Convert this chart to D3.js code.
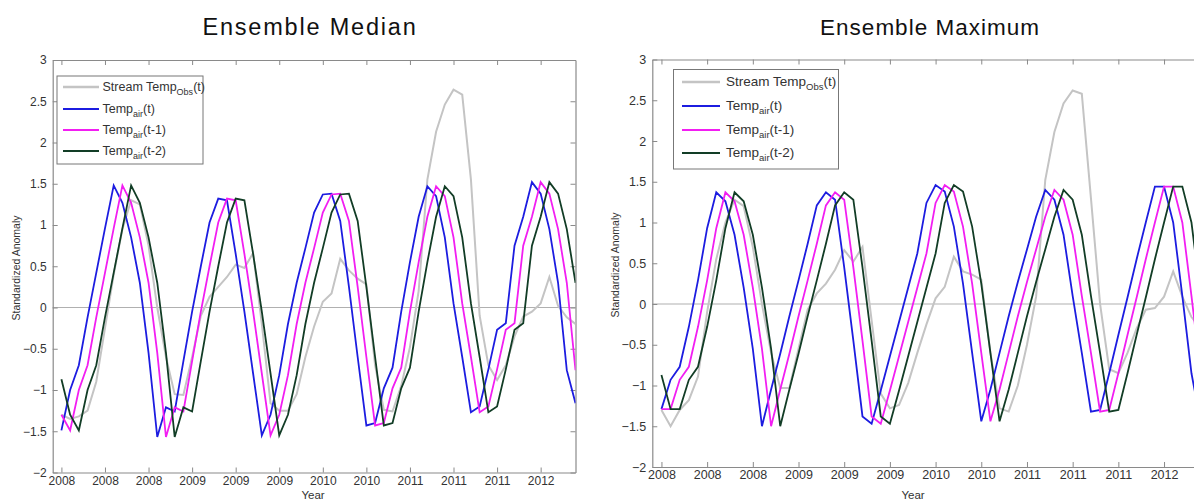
<!DOCTYPE html>
<html><head><meta charset="utf-8">
<script src="https://cdn.jsdelivr.net/npm/d3@7"></script>
<style>
body{margin:0;background:#fff;}
svg{display:block;font-family:Arial,"Liberation Sans",sans-serif;}
</style>
</head><body>
<svg id="c" width="1194" height="499"></svg>
<script>
// ---------- DATA ----------
const xTickMonths = [0,5,10,15,20,25,30,35,40,45,50,55];
const xTickLabels = ["2008","2008","2008","2009","2009","2009","2010","2010","2011","2011","2011","2012"];
const yTicks = [-2,-1.5,-1,-0.5,0,0.5,1,1.5,2,2.5,3];
const seriesNames = ["Stream Temp|Obs|(t)","Temp|air|(t)","Temp|air|(t-1)","Temp|air|(t-2)"];

// Ensemble Median
const medianObs = [-1.30,-1.35,-1.32,-1.25,-0.90,-0.25,0.40,0.95,1.30,1.25,
  0.75,0.00,-0.60,-1.05,-1.06,-0.60,-0.10,0.13,0.25,0.37,
  0.52,0.48,0.66,-0.20,-1.16,-1.25,-1.25,-1.05,-0.60,-0.23,
  0.07,0.17,0.59,0.45,0.35,0.28,-0.70,-1.24,-1.26,-0.95,
  -0.48,0.20,1.55,2.13,2.46,2.64,2.58,1.55,-0.10,-0.70,
  -0.88,-0.70,-0.35,-0.11,-0.05,0.05,0.37,0.02,-0.12,-0.20];
const medianAir = [-1.49,-1.00,-0.70,-0.12,0.42,0.96,1.48,1.27,0.85,0.30,
  -0.55,-1.57,-1.21,-1.26,-0.65,-0.05,0.50,1.03,1.32,1.30,
  0.65,-0.05,-0.80,-1.55,-1.30,-0.82,-0.20,0.30,0.72,1.15,
  1.37,1.38,1.05,0.25,-0.60,-1.43,-1.40,-0.98,-0.73,-0.05,
  0.55,1.10,1.47,1.35,0.85,0.05,-0.60,-1.27,-1.20,-0.75,
  -0.27,-0.19,0.75,1.10,1.52,1.38,0.95,0.30,-0.76,-1.16];
const medianAirLag1 = [-1.30,-1.49,-1.00,-0.70,-0.12,0.42,0.96,1.48,1.27,0.85,
  0.30,-0.55,-1.57,-1.21,-1.26,-0.65,-0.05,0.50,1.03,1.32,
  1.30,0.65,-0.05,-0.80,-1.55,-1.30,-0.82,-0.20,0.30,0.72,
  1.15,1.37,1.38,1.05,0.25,-0.60,-1.43,-1.40,-0.98,-0.73,
  -0.05,0.55,1.10,1.47,1.35,0.85,0.05,-0.60,-1.27,-1.20,
  -0.75,-0.27,-0.19,0.75,1.10,1.52,1.38,0.95,0.30,-0.76];
const medianAirLag2 = [-0.87,-1.30,-1.49,-1.00,-0.70,-0.12,0.42,0.96,1.48,1.27,
  0.85,0.30,-0.55,-1.57,-1.21,-1.26,-0.65,-0.05,0.50,1.03,
  1.32,1.30,0.65,-0.05,-0.80,-1.55,-1.30,-0.82,-0.20,0.30,
  0.72,1.15,1.37,1.38,1.05,0.25,-0.60,-1.43,-1.40,-0.98,
  -0.73,-0.05,0.55,1.10,1.47,1.35,0.85,0.05,-0.60,-1.27,
  -1.20,-0.75,-0.27,-0.19,0.75,1.10,1.52,1.38,0.95,0.30];

// Ensemble Maximum
const maxObs = [-1.30,-1.50,-1.30,-1.18,-0.89,-0.10,0.55,1.00,1.28,1.20,
  0.70,0.00,-0.60,-1.03,-1.03,-0.55,-0.07,0.13,0.25,0.42,
  0.66,0.52,0.70,-0.20,-1.10,-1.28,-1.24,-0.97,-0.60,-0.25,
  0.07,0.21,0.58,0.40,0.36,0.30,-0.60,-1.28,-1.32,-1.00,
  -0.50,0.09,1.52,2.11,2.46,2.62,2.58,1.30,0.00,-0.80,
  -0.85,-0.60,-0.30,-0.07,-0.05,0.09,0.40,0.09,-0.16,-0.30];
const maxAir = [-1.29,-0.93,-0.77,-0.28,0.29,0.93,1.37,1.26,0.85,0.20,
  -0.55,-1.50,-1.05,-0.61,-0.15,0.29,0.74,1.21,1.37,1.28,
  0.45,-0.45,-1.38,-1.47,-1.06,-0.64,-0.22,0.20,0.62,1.24,
  1.46,1.38,0.95,0.25,-0.60,-1.44,-1.05,-0.60,-0.15,0.27,
  0.67,1.07,1.40,1.28,0.85,0.10,-0.60,-1.32,-1.30,-0.85,
  -0.38,0.08,0.55,1.00,1.44,1.44,1.00,0.10,-0.85,-1.45];
const maxAirLag1 = [-1.29,-1.29,-0.93,-0.77,-0.28,0.29,0.93,1.37,1.26,0.85,
  0.20,-0.55,-1.50,-1.05,-0.61,-0.15,0.29,0.74,1.21,1.37,
  1.28,0.45,-0.45,-1.38,-1.47,-1.06,-0.64,-0.22,0.20,0.62,
  1.24,1.46,1.38,0.95,0.25,-0.60,-1.44,-1.05,-0.60,-0.15,
  0.27,0.67,1.07,1.40,1.28,0.85,0.10,-0.60,-1.32,-1.30,
  -0.85,-0.38,0.08,0.55,1.00,1.44,1.44,1.00,0.10,-0.85];
const maxAirLag2 = [-0.87,-1.29,-1.29,-0.93,-0.77,-0.28,0.29,0.93,1.37,1.26,
  0.85,0.20,-0.55,-1.50,-1.05,-0.61,-0.15,0.29,0.74,1.21,
  1.37,1.28,0.45,-0.45,-1.38,-1.47,-1.06,-0.64,-0.22,0.20,
  0.62,1.24,1.46,1.38,0.95,0.25,-0.60,-1.44,-1.05,-0.60,
  -0.15,0.27,0.67,1.07,1.40,1.28,0.85,0.10,-0.60,-1.32,
  -1.30,-0.85,-0.38,0.08,0.55,1.00,1.44,1.44,1.00,0.10];

// ---------- STYLE / LAYOUT ----------
const colors = ["#c4c4c4","#1c1ce0","#f21ef2","#123d26"];
const widths = [2,1.8,1.8,1.8];
const axisColor = "#8a8a8a";
const textColor = "#333";

const panels = [
  {title:"Ensemble Median", series:[medianObs,medianAir,medianAirLag1,medianAirLag2],
   x0:52.7, x1:575.5, yTop:60, yBot:472.5, titleX:310, titleY:35, titleSize:23.5, titleLS:1.8,
   font:12, ylabX:20, ylabY:268, yearX:313, yearY:498.5, pad:4,
   leg:{x:57, y:76, w:146, h:88, rows:[87,109,130,151], lx0:63, lx1:99, tx:102.5, fs:12.5, sub:9}},
  {title:"Ensemble Maximum", series:[maxObs,maxAir,maxAirLag1,maxAirLag2],
   x0:652.3, x1:1200.6, yTop:59.5, yBot:467, titleX:930, titleY:35, titleSize:22.5, titleLS:1,
   font:12.5, ylabX:619, ylabY:265, yearX:913, yearY:498.5, pad:3,
   leg:{x:673.5, y:69.5, w:165, h:99.5, rows:[82,106,130,153], lx0:682, lx1:720, tx:726, fs:13.5, sub:9.5}}
];

const svg = d3.select("#c");

panels.forEach((p,pi)=>{
  const x = d3.scaleLinear().domain([-1,59]).range([p.x0,p.x1]);
  const y = d3.scaleLinear().domain([-2,3]).range([p.yBot,p.yTop]);
  const g = svg.append("g");

  // title
  g.append("text").attr("x",p.titleX).attr("y",p.titleY).attr("text-anchor","middle")
    .attr("font-size",p.titleSize).attr("letter-spacing",p.titleLS+"px").attr("fill","#111").text(p.title);

  // clip
  const cid = "clip"+pi;
  svg.append("defs").append("clipPath").attr("id",cid).append("rect")
    .attr("x",p.x0).attr("y",p.yTop).attr("width",p.x1-p.x0).attr("height",p.yBot-p.yTop);

  // zero line
  g.append("line").attr("x1",p.x0).attr("x2",p.x1).attr("y1",y(0)).attr("y2",y(0))
    .attr("stroke","#b0b0b0").attr("stroke-width",1.1);

  // axes
  const xb = d3.axisBottom(x).tickValues(xTickMonths).tickFormat((d,i)=>xTickLabels[i]).tickSizeInner(-5).tickSizeOuter(0).tickPadding(p.pad);
  const gx = g.append("g").attr("transform",`translate(0,${p.yBot})`).call(xb);
  const xt = d3.axisTop(x).tickValues(xTickMonths).tickFormat("").tickSizeInner(-5).tickSizeOuter(0);
  const gxt = g.append("g").attr("transform",`translate(0,${p.yTop})`).call(xt);
  const yl = d3.axisLeft(y).tickValues(yTicks).tickFormat(d=>d3.format("")(d)).tickSizeInner(-5).tickSizeOuter(0).tickPadding(6);
  const gy = g.append("g").attr("transform",`translate(${p.x0},0)`).call(yl);
  const yr = d3.axisRight(y).tickValues(yTicks).tickFormat("").tickSizeInner(-5).tickSizeOuter(0);
  const gyr = g.append("g").attr("transform",`translate(${p.x1},0)`).call(yr);
  [gx,gxt,gy,gyr].forEach(a=>{
    a.selectAll("path").attr("stroke",axisColor).attr("stroke-width",1.2);
    a.selectAll("line").attr("stroke",axisColor).attr("stroke-width",1);
    a.selectAll("text").attr("fill",textColor).attr("font-size",p.font).attr("font-family","Arial, 'Liberation Sans', sans-serif");
  });

  // lines
  const line = d3.line().x((d,i)=>x(i)).y(d=>y(d));
  const lg = g.append("g").attr("clip-path",`url(#${cid})`);
  p.series.forEach((s,si)=>{
    lg.append("path").datum(s).attr("d",line).attr("fill","none")
      .attr("stroke",colors[si]).attr("stroke-width",widths[si]).attr("stroke-linejoin","miter");
  });

  // axis labels
  g.append("text").attr("transform",`translate(${p.ylabX},${p.ylabY}) rotate(-90)`)
    .attr("text-anchor","middle").attr("font-size",10.5).attr("fill",textColor).text("Standardized Anomaly");
  g.append("text").attr("x",p.yearX).attr("y",p.yearY).attr("text-anchor","middle")
    .attr("font-size",11.5).attr("fill",textColor).text("Year");

  // legend
  const L = p.leg;
  g.append("rect").attr("x",L.x).attr("y",L.y).attr("width",L.w).attr("height",L.h)
    .attr("fill","#fff").attr("stroke","#777").attr("stroke-width",1);
  seriesNames.forEach((nm,si)=>{
    const parts = nm.split("|");
    const ry = L.rows[si];
    g.append("line").attr("x1",L.lx0).attr("x2",L.lx1).attr("y1",ry).attr("y2",ry)
      .attr("stroke",colors[si]).attr("stroke-width",widths[si]+0.4);
    const t = g.append("text").attr("x",L.tx).attr("y",ry+4).attr("font-size",L.fs).attr("fill",textColor);
    t.append("tspan").text(parts[0]);
    t.append("tspan").attr("font-size",L.sub).attr("dy",4).text(parts[1]);
    t.append("tspan").attr("dy",-4).text(parts[2]);
  });
});
</script>
</body></html>
